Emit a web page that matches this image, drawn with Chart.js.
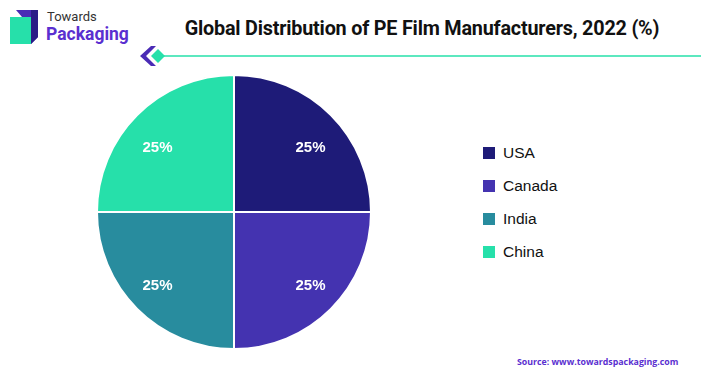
<!DOCTYPE html>
<html><head><meta charset="utf-8">
<script src="https://cdn.jsdelivr.net/npm/chart.js@4"></script>
<style>
html,body{margin:0;padding:0;background:#fff;width:701px;height:376px;overflow:hidden;font-family:Roboto,"Liberation Sans",sans-serif;}
#wrap{position:relative;width:701px;height:376px;}
#pie{position:absolute;left:96px;top:74px;width:276px;height:276px;}
.abs{position:absolute;white-space:nowrap;}
#title{left:173px;width:498px;top:17px;text-align:center;font-weight:700;font-size:19.8px;color:#111;letter-spacing:-0.2px;}
#legend{left:483px;top:136px;}
.li{display:flex;align-items:center;height:33px;font-family:"Liberation Sans",Arial,sans-serif;font-size:15.5px;color:#111;}
.sw{width:12px;height:12px;margin-right:8px;}
#source{left:517px;top:356px;font-family:"Open Sans",sans-serif;font-weight:700;font-size:8.8px;color:#5a2fd0;}
</style></head>
<body><div id="wrap">
<svg class="abs" style="left:0;top:0" width="701" height="80">
  <polygon points="16,10 38,10 38,37 31,44 31,17 22,17" fill="#4a2bb5"/>
  <polygon points="31,10 38,10 38,37 31,44" fill="#2a1d86"/>
  <rect x="10" y="17" width="21" height="27" fill="#26e0aa"/>
  <polygon points="140,56 151,46 156,46 146,56 156,66 151,66" fill="#4a2bb5"/>
  <polygon points="151,56 158,49 165,56 158,63" fill="#26e0aa"/>
  <line x1="163" y1="56" x2="701" y2="56" stroke="#26e0aa" stroke-width="1.6"/>
</svg>
<div class="abs" style="left:47px;top:9px;font-size:13px;color:#333;">Towards</div>
<div class="abs" style="left:46px;top:24px;font-size:17.5px;font-weight:700;color:#5a2fd0;">Packaging</div>
<div id="title" class="abs">Global Distribution of PE Film Manufacturers, 2022 (%)</div>
<canvas id="pie" width="276" height="276"></canvas>
<div id="legend" class="abs"></div>
<div id="source" class="abs">Source: www.towardspackaging.com</div>
</div>
<script>
const categories = ["USA", "Canada", "India", "China"];
const shares = [25, 25, 25, 25];
const colors = ["#1e1b78", "#4433b0", "#288c9e", "#26e0aa"];

const lg = document.getElementById('legend');
categories.forEach((c, i) => {
  const d = document.createElement('div'); d.className = 'li';
  d.innerHTML = '<span class="sw" style="background:' + colors[i] + '"></span><span>' + c + '</span>';
  lg.appendChild(d);
});

const labelPlugin = {
  id: 'sliceLabels',
  afterDatasetsDraw(chart) {
    const ctx = chart.ctx;
    const meta = chart.getDatasetMeta(0);
    const total = shares.reduce((a, b) => a + b, 0);
    ctx.save();
    ctx.fillStyle = '#ffffff';
    ctx.font = 'bold 15px "Liberation Sans", Arial, sans-serif';
    ctx.textAlign = 'center';
    ctx.textBaseline = 'middle';
    meta.data.forEach((arc, i) => {
      const mid = (arc.startAngle + arc.endAngle) / 2;
      const R = arc.outerRadius;
      const x = arc.x + Math.cos(mid) * R * 0.79;
      const y = arc.y + Math.sin(mid) * R * 0.71 + 5;
      ctx.fillText(Math.round(shares[i] / total * 100) + '%', x, y);
    });
    ctx.restore();
  }
};

new Chart(document.getElementById('pie'), {
  type: 'pie',
  data: { labels: categories, datasets: [{ data: shares, backgroundColor: colors, borderColor: '#ffffff', borderWidth: 2 }] },
  options: {
    responsive: false, animation: false,
    layout: { padding: 0 },
    plugins: { legend: { display: false }, tooltip: { enabled: false } }
  },
  plugins: [labelPlugin]
});
</script>
</body></html>
